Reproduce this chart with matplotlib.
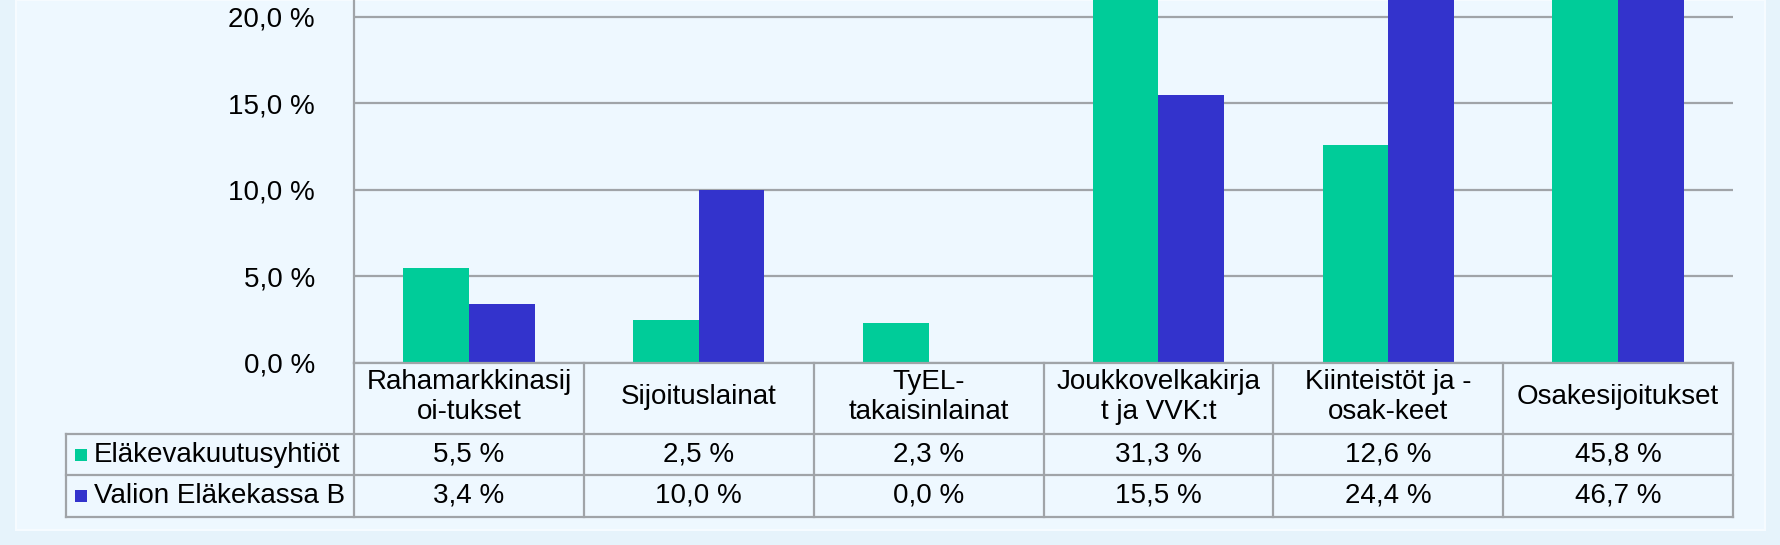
import matplotlib.pyplot as plt
from matplotlib.patches import Rectangle

categories = ["Rahamarkkinasij\noi-tukset", "Sijoituslainat", "TyEL-\ntakaisinlainat",
              "Joukkovelkakirja\nt ja VVK:t", "Kiinteistöt ja -\nosak-keet", "Osakesijoitukset"]
series_names = ["Eläkevakuutusyhtiöt", "Valion Eläkekassa B"]
elakevak = [5.5, 2.5, 2.3, 31.3, 12.6, 45.8]
valion = [3.4, 10.0, 0.0, 15.5, 24.4, 46.7]
yticks = [0, 5, 10, 15, 20]

colors = ["#00CC99", "#3333CC"]
grid_col = "#a0a4a8"
font = "Liberation Sans"
fs = 20

W, H = 1780, 545
fig = plt.figure(figsize=(W / 100, H / 100), dpi=100)
fig.patch.set_facecolor("#e6f3fb")
# lighter inner panel
panel = Rectangle((16 / W, 1 - 530 / H), (1765 - 16) / W, 530 / H,
                  transform=fig.transFigure, facecolor="#eef8ff",
                  edgecolor="#f6fbff", lw=1.5, zorder=-5)
fig.add_artist(panel)

ax_l, ax_r, ax_b = 354, 1733, 363
ax = fig.add_axes([ax_l / W, 1 - ax_b / H, (ax_r - ax_l) / W, ax_b / H])
ax.set_facecolor("none")

n = len(categories)
x = list(range(n))
bw = 1 / 3.5
ax.bar([i - bw / 2 for i in x], elakevak, bw, color=colors[0], zorder=3)
ax.bar([i + bw / 2 for i in x], valion, bw, color=colors[1], zorder=3)

ax.set_xlim(-0.5, n - 0.5)
ax.set_ylim(0, 20.98)
ax.set_yticks(yticks)
ax.set_yticklabels([f"{t:.1f} %".replace(".", ",") for t in yticks],
                   fontfamily=font, fontsize=fs)
ax.tick_params(axis="y", length=0, pad=28)
ax.set_xticks([])
ax.yaxis.grid(True, color=grid_col, lw=1.6, zorder=1)
for s in ["top", "right", "bottom"]:
    ax.spines[s].set_visible(False)
ax.spines["left"].set_color(grid_col)
ax.spines["left"].set_linewidth(1.6)

# data table below the axes
tr = ax.get_xaxis_transform()
h_ax = ax_b
y0 = 0.0
y1 = -(434 - ax_b) / h_ax
y2 = -(475 - ax_b) / h_ax
y3 = -(517 - ax_b) / h_ax
left_frac = (66 - ax_l) / (ax_r - ax_l)

line_kw = dict(color=grid_col, lw=1.6, clip_on=False, zorder=4)
# horizontal lines
ax.plot([-0.5, n - 0.5], [y0, y0], transform=tr, **line_kw)
for yy in (y1, y2, y3):
    ax.plot([left_frac, 1], [yy, yy], transform=ax.transAxes, **line_kw)
# vertical lines
for b in [i - 0.5 for i in range(n + 1)]:
    ax.plot([b, b], [y0, y3], transform=tr, **line_kw)
ax.plot([left_frac, left_frac], [y1, y3], transform=ax.transAxes, **line_kw)

for i, cat in enumerate(categories):
    ax.text(i, (y0 + y1) / 2 + 0.005, cat, transform=tr, ha="center", va="center",
            fontfamily=font, fontsize=fs, linespacing=1.2)

rows = [(y1, y2, elakevak), (y2, y3, valion)]
for k, (ya, yb, vals) in enumerate(rows):
    ym = (ya + yb) / 2
    for i, v in enumerate(vals):
        ax.text(i, ym, f"{v:.1f} %".replace(".", ","), transform=tr,
                ha="center", va="center", fontfamily=font, fontsize=fs)
    # legend key square + name
    sq_w = 12 / (ax_r - ax_l)
    sq_h = 12 / h_ax
    sx = (75 - ax_l) / (ax_r - ax_l)
    ax.add_patch(Rectangle((sx, ym - sq_h / 2), sq_w, sq_h, transform=ax.transAxes,
                           facecolor=colors[k], edgecolor="none", clip_on=False, zorder=5))
    ax.text((94 - ax_l) / (ax_r - ax_l), ym, series_names[k], transform=ax.transAxes,
            ha="left", va="center", fontfamily=font, fontsize=fs)

fig.savefig("out.png", dpi=100, facecolor=fig.get_facecolor())
